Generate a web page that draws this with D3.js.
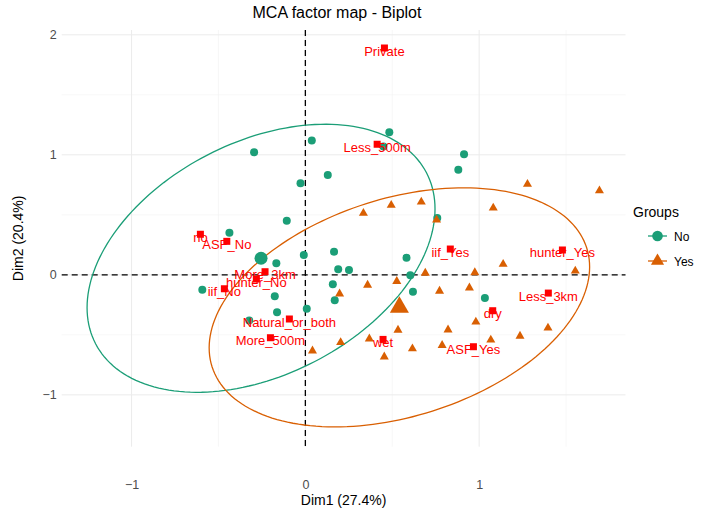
<!DOCTYPE html>
<html>
<head>
<meta charset="utf-8">
<script src="https://cdn.jsdelivr.net/npm/d3@7"></script>
<style>
  html, body { margin: 0; padding: 0; background: #ffffff; }
  svg { display: block; font-family: "Liberation Sans", Arial, sans-serif; }
</style>
</head>
<body>
<div id="chart"></div>
<script>
// ---------------- DATA ----------------
// Individuals, group "No"
const noX = [-0.295, 0.037, 0.129, -0.028, -0.107, -0.437, 0.483, 0.913, 0.880, 0.759,
             -0.009, -0.167, -0.593, -0.176, -0.163, 0.008, -0.323, 0.165, 0.189, 0.251,
             0.158, 0.169, 0.582, 0.604, 0.619, 1.033, 0.449];
const noY = [1.021, 1.119, 0.832, 0.763, 0.451, 0.351, 1.188, 1.004, 0.876, 0.473,
             0.165, 0.096, -0.124, -0.178, -0.312, -0.283, -0.381, 0.193, 0.047, 0.040,
             -0.078, -0.212, 0.143, -0.003, -0.141, -0.193, 1.069];
// Individuals, group "Yes"
const yesX = [0.334, 0.494, 0.667, 0.755, 1.278, 1.692, 1.081, 1.138, 1.553, 0.690,
              0.975, 0.526, 0.358, 0.197, 0.772, 0.944, 0.981, 0.821, 0.533, 1.396,
              1.235, 1.067, 0.203, 0.368, 0.787, 0.616, 0.454, 0.041];
const yesY = [0.513, 0.580, 0.608, 0.457, 0.755, 0.701, 0.558, 0.088, 0.033, 0.015,
              0.019, -0.054, -0.085, -0.158, -0.135, -0.108, -0.392, -0.458, -0.460, -0.442,
              -0.510, -0.543, -0.564, -0.533, -0.587, -0.616, -0.683, -0.633];
// Group mean points
const groupNames = ["No", "Yes"];
const groupMeanX = [-0.255, 0.541];
const groupMeanY = [0.138, -0.271];
// Concentration ellipses (variance / covariance in Dim1, Dim2 units)
const ellipseVarX = [1.002, 1.198];
const ellipseVarY = [1.247, 0.992];
const ellipseCovXY = [0.412, 0.369];
// Variable categories
const varLabels = ["Private", "Less_500m", "no", "ASF_No", "More_3km", "hunter_No", "iif_No",
                   "Natural_or_both", "More_500m", "iif_Yes", "hunter_Yes", "Less_3km", "dry", "wet", "ASF_Yes"];
const varX = [0.455, 0.413, -0.604, -0.452, -0.232, -0.282, -0.466, -0.092, -0.201, 0.834,
              1.479, 1.398, 1.078, 0.447, 0.967];
const varY = [1.890, 1.088, 0.338, 0.279, 0.026, -0.035, -0.116, -0.368, -0.524, 0.215,
              0.207, -0.152, -0.299, -0.538, -0.599];
// Axes
const xTicks = [-1, 0, 1];
const yTicks = [-1, 0, 1, 2];
const xMinor = [-0.5, 0.5, 1.5];
const yMinor = [-0.5, 0.5, 1.5];
const titleText = "MCA factor map - Biplot";
const xTitle = "Dim1 (27.4%)";
const yTitle = "Dim2 (20.4%)";
const legendTitle = "Groups";

// ---------------- DRAW ----------------
const W = 708, H = 513;
const colors = ["#1B9E77", "#D95F02"];
const svg = d3.select("#chart").append("svg").attr("width", W).attr("height", H);
svg.append("rect").attr("width", W).attr("height", H).attr("fill", "#fff");

const x = d3.scaleLinear().domain([-1.402, 1.842]).range([61.7, 625.5]);
const y = d3.scaleLinear().domain([-1.432, 2.04]).range([446.7, 30]);
const [x0, x1] = x.range();
const [y0, y1] = y.range();

// grid
const g = svg.append("g");
g.selectAll(".xminor").data(xMinor).join("line")
  .attr("x1", d => x(d)).attr("x2", d => x(d)).attr("y1", y1).attr("y2", y0)
  .attr("stroke", "#f2f2f2").attr("stroke-width", 0.6);
g.selectAll(".yminor").data(yMinor).join("line")
  .attr("y1", d => y(d)).attr("y2", d => y(d)).attr("x1", x0).attr("x2", x1)
  .attr("stroke", "#f2f2f2").attr("stroke-width", 0.6);
g.selectAll(".xmajor").data(xTicks).join("line")
  .attr("x1", d => x(d)).attr("x2", d => x(d)).attr("y1", y1).attr("y2", y0)
  .attr("stroke", "#ebebeb").attr("stroke-width", 1);
g.selectAll(".ymajor").data(yTicks).join("line")
  .attr("y1", d => y(d)).attr("y2", d => y(d)).attr("x1", x0).attr("x2", x1)
  .attr("stroke", "#ebebeb").attr("stroke-width", 1);

// axes tick labels via d3 axes (no domain / no tick marks)
const xAxis = svg.append("g").attr("transform", `translate(0,${y0})`)
  .call(d3.axisBottom(x).tickValues(xTicks).tickSize(0).tickPadding(33).tickFormat(d3.format("d")));
const yAxis = svg.append("g").attr("transform", `translate(${x0},0)`)
  .call(d3.axisLeft(y).tickValues(yTicks).tickSize(0).tickPadding(5).tickFormat(d3.format("d")));
[xAxis, yAxis].forEach(a => {
  a.select(".domain").remove();
  a.selectAll("text").attr("font-size", 12.5).attr("fill", "#4d4d4d")
    .attr("font-family", "'Liberation Sans', Arial, sans-serif");
});

// reference dashed lines
svg.append("line").attr("x1", x(0)).attr("x2", x(0)).attr("y1", y1).attr("y2", y0)
  .attr("stroke", "#000").attr("stroke-width", 1.3).attr("stroke-dasharray", "6,4");
svg.append("line").attr("y1", y(0)).attr("y2", y(0)).attr("x1", x0).attr("x2", x1)
  .attr("stroke", "#000").attr("stroke-width", 1.3).attr("stroke-dasharray", "6,4");

// ellipses
const line = d3.line().x(d => x(d[0])).y(d => y(d[1])).curve(d3.curveLinearClosed);
groupNames.forEach((name, i) => {
  const a = Math.sqrt(ellipseVarX[i]);
  const b = ellipseCovXY[i] / a;
  const c = Math.sqrt(ellipseVarY[i] - b * b);
  const pts = d3.range(0, 360, 2).map(t => {
    const th = t * Math.PI / 180;
    const u = Math.cos(th), v = Math.sin(th);
    return [groupMeanX[i] + a * u, groupMeanY[i] + b * u + c * v];
  });
  svg.append("path").attr("d", line(pts)).attr("fill", "none")
    .attr("stroke", colors[i]).attr("stroke-width", 1.3);
});

// triangle path helper (centroid at origin)
function tri(h) { // h = distance centroid->base
  const s = Math.sqrt(3) * h;
  return `M0,${-2 * h}L${s},${h}L${-s},${h}Z`;
}

// individuals
svg.append("g").selectAll("circle").data(d3.range(noX.length)).join("circle")
  .attr("cx", i => x(noX[i])).attr("cy", i => y(noY[i])).attr("r", 4)
  .attr("fill", colors[0]);
svg.append("g").selectAll("path").data(d3.range(yesX.length)).join("path")
  .attr("transform", i => `translate(${x(yesX[i])},${y(yesY[i])})`)
  .attr("d", tri(2.6)).attr("fill", colors[1]);

// group means
svg.append("circle").attr("cx", x(groupMeanX[0])).attr("cy", y(groupMeanY[0])).attr("r", 6.5)
  .attr("fill", colors[0]);
svg.append("path").attr("transform", `translate(${x(groupMeanX[1])},${y(groupMeanY[1])})`)
  .attr("d", tri(5.5)).attr("fill", colors[1]);

// variable labels then squares
svg.append("g").selectAll("text").data(d3.range(varLabels.length)).join("text")
  .attr("x", i => x(varX[i])).attr("y", i => y(varY[i]) + 3)
  .attr("text-anchor", "middle").attr("dominant-baseline", "central")
  .attr("font-size", 13).attr("fill", "#FF0000").text(i => varLabels[i]);
svg.append("g").selectAll("rect").data(d3.range(varLabels.length)).join("rect")
  .attr("x", i => x(varX[i]) - 3.5).attr("y", i => y(varY[i]) - 3.5)
  .attr("width", 7).attr("height", 7).attr("fill", "#FF0000");

// titles
svg.append("text").attr("x", 337).attr("y", 18).attr("text-anchor", "middle")
  .attr("font-size", 16).attr("fill", "#000").text(titleText);
svg.append("text").attr("x", (x0 + x1) / 2).attr("y", 505).attr("text-anchor", "middle")
  .attr("font-size", 14).attr("fill", "#000").text(xTitle);
svg.append("text").attr("transform", `translate(23,${(y0 + y1) / 2}) rotate(-90)`)
  .attr("text-anchor", "middle").attr("font-size", 14).attr("fill", "#000").text(yTitle);

// legend
const lg = svg.append("g");
lg.append("text").attr("x", 633).attr("y", 217).attr("font-size", 14).attr("fill", "#000").text(legendTitle);
const keyY = [236, 261];
groupNames.forEach((name, i) => {
  lg.append("line").attr("x1", 648).attr("x2", 667).attr("y1", keyY[i]).attr("y2", keyY[i])
    .attr("stroke", colors[i]).attr("stroke-width", 1.3);
  if (i === 0) {
    lg.append("circle").attr("cx", 657.5).attr("cy", keyY[i]).attr("r", 5.3).attr("fill", colors[i]);
  } else {
    lg.append("path").attr("transform", `translate(657.5,${keyY[i]})`).attr("d", tri(3.8)).attr("fill", colors[i]);
  }
  lg.append("text").attr("x", 674).attr("y", keyY[i] + 4.5).attr("font-size", 12).attr("fill", "#000").text(name);
});
</script>
</body>
</html>
